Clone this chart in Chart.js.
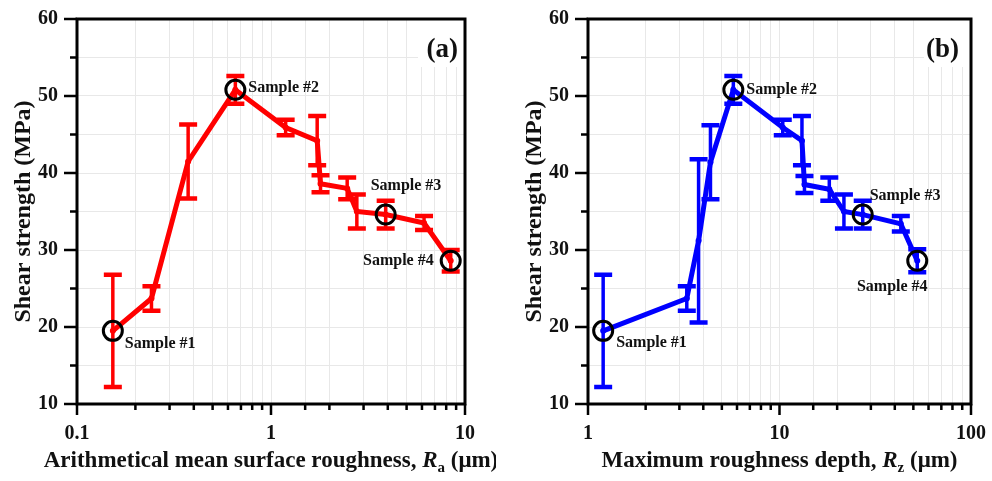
<!DOCTYPE html>
<html>
<head>
<meta charset="utf-8">
<script src="https://cdn.jsdelivr.net/npm/chart.js@4.4.1/dist/chart.umd.min.js"></script>
<style>
  body { margin: 0; background: #fff; }
  #wrap { position: relative; width: 992px; height: 481px; }
  canvas { position: absolute; top: 0; }
</style>
</head>
<body>
<div id="wrap">
  <canvas id="chartA" width="496" height="481" style="left:0"></canvas>
  <canvas id="chartB" width="496" height="481" style="left:496px"></canvas>
</div>
<script>
// (a) arithmetical mean roughness Ra (um) vs shear strength (MPa)
const raValues = [0.153, 0.242, 0.374, 0.655, 1.19, 1.73, 1.80, 2.47, 2.77, 3.9, 6.15, 8.44];
const strengthA = [19.5, 23.7, 41.5, 50.8, 45.9, 44.2, 38.6, 38.0, 35.0, 34.6, 33.5, 28.6];
const errorA = [7.3, 1.6, 4.8, 1.8, 1.0, 3.2, 1.1, 1.4, 2.2, 1.8, 0.9, 1.4];
const samplesA = [0, 3, 9, 11];

// (b) maximum roughness depth Rz (um) vs shear strength (MPa)
const rzValues = [1.2, 3.28, 3.78, 4.36, 5.74, 10.4, 13.1, 13.5, 18.2, 21.7, 27.2, 43, 52.4];
const strengthB = [19.5, 23.7, 31.2, 41.4, 50.8, 45.9, 44.2, 38.5, 37.9, 35.0, 34.6, 33.4, 28.6];
const errorB = [7.3, 1.6, 10.6, 4.8, 1.8, 1.0, 3.2, 1.1, 1.5, 2.2, 1.8, 1.0, 1.5];
const samplesB = [0, 4, 10, 12];

const sampleNames = ['Sample #1', 'Sample #2', 'Sample #3', 'Sample #4'];
const yTicks = [10, 20, 30, 40, 50, 60];

const SERIF = "'Liberation Serif', 'Times New Roman', serif";
Chart.defaults.font.family = SERIF;
Chart.defaults.color = '#111';

function isDecade(v) {
  const l = Math.log10(v);
  return Math.abs(l - Math.round(l)) < 1e-9;
}

const decor = {
  id: 'decor',
  beforeDatasetsDraw(chart, args, opts) {
    const { ctx, chartArea: a, scales: { x, y } } = chart;
    ctx.save();
    // white patch behind the panel letter
    ctx.fillStyle = '#fff';
    ctx.fillRect(a.right - 47, a.top, 47, 48);
    // error bars
    ctx.strokeStyle = opts.color;
    opts.xs.forEach((xv, i) => {
      const px = x.getPixelForValue(xv);
      const hi = y.getPixelForValue(opts.ys[i] + opts.err[i]);
      const lo = y.getPixelForValue(opts.ys[i] - opts.err[i]);
      ctx.lineWidth = 3.5;
      ctx.beginPath();
      ctx.moveTo(px, hi); ctx.lineTo(px, lo);
      ctx.stroke();
      ctx.lineWidth = 4.5;
      ctx.beginPath();
      ctx.moveTo(px - 9, hi); ctx.lineTo(px + 9, hi);
      ctx.moveTo(px - 9, lo); ctx.lineTo(px + 9, lo);
      ctx.stroke();
    });
    ctx.restore();
  },
  afterDraw(chart, args, opts) {
    const { ctx, chartArea: a, scales: { x, y } } = chart;
    ctx.save();
    ctx.strokeStyle = '#000';
    ctx.lineWidth = 3;
    ctx.strokeRect(a.left, a.top, a.right - a.left, a.bottom - a.top);

    // tick marks, major longer than minor
    ctx.lineWidth = 2.5;
    ctx.beginPath();
    y.ticks.forEach(t => {
      const py = y.getPixelForValue(t.value);
      const len = t.value % 10 === 0 ? 13 : 7;
      ctx.moveTo(a.left - len, py); ctx.lineTo(a.left, py);
    });
    x.ticks.forEach(t => {
      const px = x.getPixelForValue(t.value);
      const len = isDecade(t.value) ? 11 : 6;
      ctx.moveTo(px, a.bottom); ctx.lineTo(px, a.bottom + len);
    });
    ctx.stroke();

    // panel letter
    ctx.fillStyle = '#111';
    ctx.font = 'bold 27px ' + SERIF;
    ctx.textAlign = 'right';
    ctx.textBaseline = 'middle';
    ctx.fillText(opts.panel, a.right - opts.panelDx, a.top + 31);

    // sample labels next to the circled points
    ctx.font = 'bold 16px ' + SERIF;
    opts.samples.forEach((idx, k) => {
      const s = opts.labelPos[k];
      ctx.textAlign = s.align;
      ctx.fillText(sampleNames[k],
        x.getPixelForValue(opts.xs[idx]) + s.dx,
        y.getPixelForValue(opts.ys[idx]) + s.dy);
    });

    // x-axis title with italic R and subscript
    const parts = opts.xTitle;
    let total = 0;
    parts.forEach(p => { ctx.font = p.font; p.w = ctx.measureText(p.text).width; total += p.w; });
    let cx = (a.left + a.right) / 2 - total / 2;
    const base = a.bottom + 63;
    ctx.textAlign = 'left';
    ctx.textBaseline = 'alphabetic';
    parts.forEach(p => {
      ctx.font = p.font;
      ctx.fillText(p.text, cx, base + (p.dy || 0));
      cx += p.w;
    });
    ctx.restore();
  }
};

function xTitleParts(before, sub) {
  return [
    { text: before, font: 'bold 23px ' + SERIF },
    { text: 'R', font: 'italic bold 23px ' + SERIF },
    { text: sub, font: 'bold 15px ' + SERIF, dy: 5 },
    { text: ' (\u03bcm)', font: 'bold 23px ' + SERIF }
  ];
}

function makeChart(id, cfg) {
  const pts = cfg.xs.map((v, i) => ({ x: v, y: cfg.ys[i] }));
  const circled = cfg.samples.map(i => pts[i]);
  return new Chart(document.getElementById(id), {
    type: 'line',
    data: {
      datasets: [
        {
          data: circled, order: 0, showLine: false,
          pointRadius: 9.5, pointBorderWidth: 3,
          pointBorderColor: '#000', pointBackgroundColor: 'rgba(0,0,0,0)'
        },
        {
          data: pts, order: 1, borderColor: cfg.color, borderWidth: 5, tension: 0,
          pointRadius: 3, pointBorderWidth: 0, pointBackgroundColor: cfg.color
        }
      ]
    },
    options: {
      responsive: false,
      animation: false,
      layout: { padding: { top: 15, right: cfg.padRight, left: 0, bottom: 0 } },
      plugins: {
        legend: { display: false },
        tooltip: { enabled: false },
        decor: {
          color: cfg.color, xs: cfg.xs, ys: cfg.ys, err: cfg.err,
          samples: cfg.samples, labelPos: cfg.labelPos,
          panel: cfg.panel, panelDx: cfg.panelDx, xTitle: cfg.xTitle
        }
      },
      scales: {
        x: {
          type: 'logarithmic', min: cfg.xMin, max: cfg.xMax,
          afterFit: s => { s.height = 77; },
          border: { display: false },
          grid: { color: '#e8e8e8', lineWidth: 1, tickLength: 12, tickColor: 'rgba(0,0,0,0)' },
          ticks: {
            autoSkip: false, maxRotation: 0, padding: 6,
            font: { size: 20, weight: 'bold' },
            callback: v => isDecade(v) ? String(+v.toPrecision(3)) : ''
          }
        },
        y: {
          min: 10, max: 60,
          afterFit: s => { s.width = cfg.yWidth; },
          border: { display: false },
          grid: { color: '#e8e8e8', lineWidth: 1, tickLength: 12, tickColor: 'rgba(0,0,0,0)' },
          ticks: {
            stepSize: 5, padding: 7,
            font: { size: 20, weight: 'bold' },
            callback: v => yTicks.includes(v) ? v : ''
          },
          title: {
            display: true, text: 'Shear strength (MPa)',
            font: { size: 24, weight: 'bold' },
            padding: { top: 9 + cfg.yTitleShift, bottom: 0 }
          }
        }
      }
    },
    plugins: [decor]
  });
}

makeChart('chartA', {
  xs: raValues, ys: strengthA, err: errorA, samples: samplesA,
  color: '#ff0000', xMin: 0.1, xMax: 10,
  yWidth: 77, padRight: 31, yTitleShift: 0,
  panel: '(a)', panelDx: 7,
  xTitle: xTitleParts('Arithmetical mean surface roughness, ', 'a'),
  labelPos: [
    { dx: 12, dy: 13, align: 'left' },
    { dx: 13, dy: -2, align: 'left' },
    { dx: -15, dy: -29, align: 'left' },
    { dx: -17, dy: 0, align: 'right' }
  ]
});

makeChart('chartB', {
  xs: rzValues, ys: strengthB, err: errorB, samples: samplesB,
  color: '#0000ff', xMin: 1, xMax: 100,
  yWidth: 92, padRight: 17, yTitleShift: 15,
  panel: '(b)', panelDx: 12,
  xTitle: xTitleParts('Maximum roughness depth, ', 'z'),
  labelPos: [
    { dx: 13, dy: 12, align: 'left' },
    { dx: 13, dy: 0, align: 'left' },
    { dx: 7, dy: -19, align: 'left' },
    { dx: -25, dy: 26, align: 'center' }
  ]
});
</script>
</body>
</html>
